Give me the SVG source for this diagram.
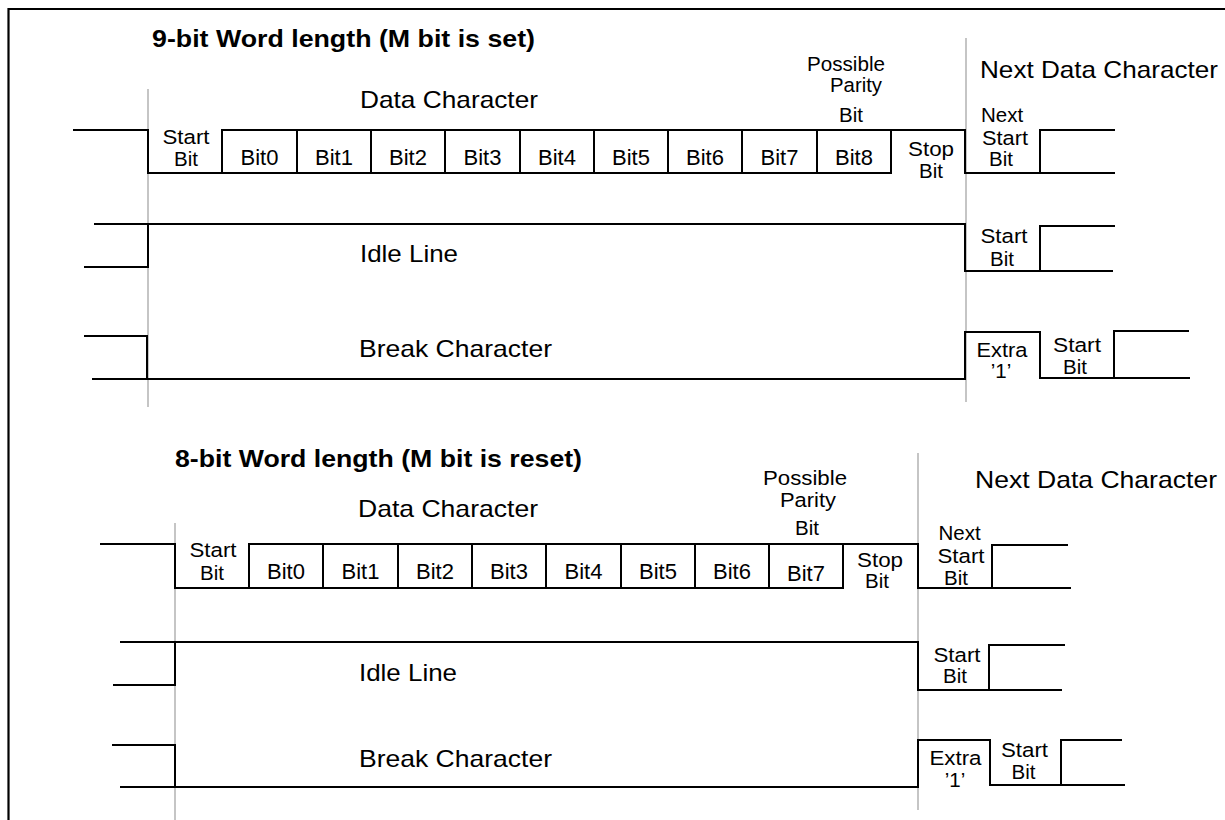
<svg xmlns="http://www.w3.org/2000/svg" width="1225" height="820" viewBox="0 0 1225 820">
<style>
.sig{fill:none;stroke:#000;stroke-width:2;stroke-linejoin:miter;stroke-linecap:butt}
.div{fill:none;stroke:#b3b3b3;stroke-width:1.5}
.frame{fill:none;stroke:#000;stroke-width:2.2}
text{font-family:"Liberation Sans",Arial,Helvetica,sans-serif;fill:#000}
.l{font-size:22px;text-anchor:middle}
.s{font-size:20.5px;text-anchor:middle}
.big{font-size:24px}
.ttl{font-size:24px;font-weight:bold}
</style>
<rect width="1225" height="820" fill="#fff"/>
<path class="frame" d="M8.5,820 V9 H1225"/>

<g id="section-9bit">
  <g id="s1-dividers">
    <path class="div" d="M148,89 V407 M966,38 V402"/>
  </g>
  <g id="s1-connectors">
    <path class="sig" d="M73,130 H148 V173 H891 V130 M222,173 V130 H965 V173 H1115 M1040,173 V130 H1115 M297,130 V173 M371,130 V173 M445,130 V173 M520,130 V173 M594,130 V173 M668,130 V173 M742,130 V173 M817,130 V173"/>
    <path class="sig" d="M94,224 H965 V271 H1113 M84,267 H148 V224 M1040,271 V226 H1115"/>
    <path class="sig" d="M84,336 H147 V379 M92,379 H965 V332 H1040 V378 H1190 M1114,378 V331 H1189"/>
  </g>
  <g id="s1-title"><text class="ttl" x="152" y="47" textLength="383" lengthAdjust="spacingAndGlyphs">9-bit Word length (M bit is set)</text></g>
  <g id="s1-data-label"><text class="big" x="360" y="108" textLength="178" lengthAdjust="spacingAndGlyphs">Data Character</text></g>
  <g id="s1-parity-label">
    <text class="s" x="846" y="71" textLength="78" lengthAdjust="spacingAndGlyphs">Possible</text>
    <text class="s" x="856" y="92" textLength="52" lengthAdjust="spacingAndGlyphs">Parity</text>
    <text class="s" x="851" y="122">Bit</text>
  </g>
  <g id="s1-next-label"><text class="big" x="980" y="78" textLength="238" lengthAdjust="spacingAndGlyphs">Next Data Character</text></g>
  <g id="s1-start"><text class="s" x="186" y="144" textLength="47" lengthAdjust="spacingAndGlyphs">Start</text><text class="s" x="186" y="166">Bit</text></g>
  <g id="s1-bits">
    <text class="l" x="259.5" y="165">Bit0</text>
    <text class="l" x="334" y="165">Bit1</text>
    <text class="l" x="408" y="165">Bit2</text>
    <text class="l" x="482.5" y="165">Bit3</text>
    <text class="l" x="557" y="165">Bit4</text>
    <text class="l" x="631" y="165">Bit5</text>
    <text class="l" x="705" y="165">Bit6</text>
    <text class="l" x="779.5" y="165">Bit7</text>
    <text class="l" x="854" y="165">Bit8</text>
  </g>
  <g id="s1-stop"><text class="s" x="931" y="156" textLength="46" lengthAdjust="spacingAndGlyphs">Stop</text><text class="s" x="931" y="178">Bit</text></g>
  <g id="s1-next-start"><text class="s" x="1002" y="122">Next</text><text class="s" x="1005" y="145" textLength="46" lengthAdjust="spacingAndGlyphs">Start</text><text class="s" x="1001" y="166">Bit</text></g>
  <g id="s1-idle"><text class="big" x="360" y="262" textLength="98" lengthAdjust="spacingAndGlyphs">Idle Line</text></g>
  <g id="s1-idle-start"><text class="s" x="1004" y="243" textLength="47" lengthAdjust="spacingAndGlyphs">Start</text><text class="s" x="1002" y="266">Bit</text></g>
  <g id="s1-break"><text class="big" x="359" y="357" textLength="193" lengthAdjust="spacingAndGlyphs">Break Character</text></g>
  <g id="s1-extra"><text class="s" x="1002" y="357" textLength="51" lengthAdjust="spacingAndGlyphs">Extra</text><text class="s" x="1001" y="378">’1’</text></g>
  <g id="s1-break-start"><text class="s" x="1077" y="352" textLength="48" lengthAdjust="spacingAndGlyphs">Start</text><text class="s" x="1075" y="374">Bit</text></g>
</g>

<g id="section-8bit">
  <g id="s2-dividers">
    <path class="div" d="M175,523 V820 M918,453 V810"/>
  </g>
  <g id="s2-connectors">
    <path class="sig" d="M100,544 H175 V588 H843 V544 M249,588 V544 H918 V588 H1071 M992,588 V545 H1068 M323,544 V588 M398,544 V588 M472,544 V588 M546,544 V588 M621,544 V588 M695,544 V588 M769,544 V588"/>
    <path class="sig" d="M120,642 H918 V690 H1062 M113,685 H175 V642 M989,690 V645 H1065"/>
    <path class="sig" d="M112,745 H175 V787 M120,787 H918 V740 H990 V785 H1125 M1061,785 V740 H1122"/>
  </g>
  <g id="s2-title"><text class="ttl" x="175" y="467" textLength="407" lengthAdjust="spacingAndGlyphs">8-bit Word length (M bit is reset)</text></g>
  <g id="s2-data-label"><text class="big" x="358" y="517" textLength="180" lengthAdjust="spacingAndGlyphs">Data Character</text></g>
  <g id="s2-parity-label">
    <text class="s" x="805" y="485" textLength="84" lengthAdjust="spacingAndGlyphs">Possible</text>
    <text class="s" x="808" y="507" textLength="56" lengthAdjust="spacingAndGlyphs">Parity</text>
    <text class="s" x="807" y="535">Bit</text>
  </g>
  <g id="s2-next-label"><text class="big" x="975" y="488" textLength="242" lengthAdjust="spacingAndGlyphs">Next Data Character</text></g>
  <g id="s2-start"><text class="s" x="213" y="557" textLength="47" lengthAdjust="spacingAndGlyphs">Start</text><text class="s" x="212" y="580">Bit</text></g>
  <g id="s2-bits">
    <text class="l" x="286" y="579">Bit0</text>
    <text class="l" x="360.5" y="579">Bit1</text>
    <text class="l" x="435" y="579">Bit2</text>
    <text class="l" x="509" y="579">Bit3</text>
    <text class="l" x="583.5" y="579">Bit4</text>
    <text class="l" x="658" y="579">Bit5</text>
    <text class="l" x="732" y="579">Bit6</text>
    <text class="l" x="806" y="581">Bit7</text>
  </g>
  <g id="s2-stop"><text class="s" x="880" y="567" textLength="46" lengthAdjust="spacingAndGlyphs">Stop</text><text class="s" x="877" y="588">Bit</text></g>
  <g id="s2-next-start"><text class="s" x="959.5" y="540">Next</text><text class="s" x="961" y="563" textLength="47" lengthAdjust="spacingAndGlyphs">Start</text><text class="s" x="956" y="585">Bit</text></g>
  <g id="s2-idle"><text class="big" x="359" y="681" textLength="98" lengthAdjust="spacingAndGlyphs">Idle Line</text></g>
  <g id="s2-idle-start"><text class="s" x="957" y="662" textLength="47" lengthAdjust="spacingAndGlyphs">Start</text><text class="s" x="955" y="683">Bit</text></g>
  <g id="s2-break"><text class="big" x="359" y="767" textLength="193" lengthAdjust="spacingAndGlyphs">Break Character</text></g>
  <g id="s2-extra"><text class="s" x="955.5" y="765" textLength="52" lengthAdjust="spacingAndGlyphs">Extra</text><text class="s" x="955" y="787">’1’</text></g>
  <g id="s2-break-start"><text class="s" x="1024.5" y="757" textLength="47" lengthAdjust="spacingAndGlyphs">Start</text><text class="s" x="1023.5" y="779">Bit</text></g>
</g>
</svg>
